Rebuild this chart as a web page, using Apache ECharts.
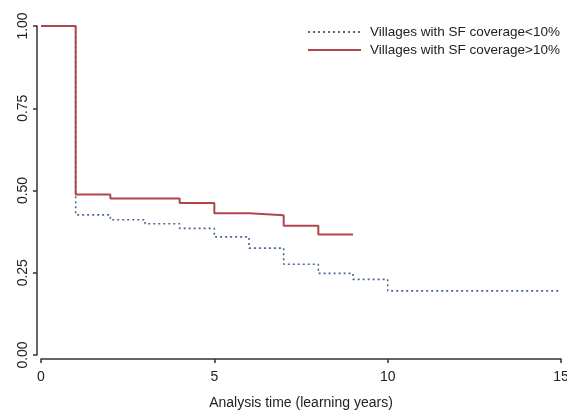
<!DOCTYPE html>
<html>
<head>
<meta charset="utf-8">
<script src="https://cdn.jsdelivr.net/npm/echarts@6/dist/echarts.min.js"></script>
<style>
  html, body { margin: 0; padding: 0; background: #fff; }
  #chart { width: 567px; height: 414px; }
</style>
</head>
<body>
<div id="chart"></div>
<script>
// survival estimates
var timesLow = [0, 1, 2, 3, 4, 5, 6, 7, 8, 9, 10, 15]
var survLow = [1, 0.426, 0.411, 0.399, 0.385, 0.359, 0.325, 0.276, 0.248, 0.230, 0.195, 0.195]
var timesHigh = [0, 1, 2, 4, 5, 6, 7, 8, 9]
var survHigh = [1, 0.488, 0.476, 0.462, 0.431, 0.425, 0.393, 0.366, 0.366]
var seriesNames = ['Villages with SF coverage<10%', 'Villages with SF coverage>10%']
var xTicks = [0, 5, 10, 15]
var yTicks = [0, 0.25, 0.5, 0.75, 1]

function pairs(xs, ys) {
  return xs.map(function (x, i) { return [x, ys[i]] })
}

var ch = echarts.init(document.getElementById('chart'))
var axisText = { color: '#222', fontSize: 14, fontFamily: 'Liberation Sans, Arial, sans-serif' }
var option = {
  animation: false,
  legend: {
    orient: 'vertical',
    left: 307,
    top: 25,
    padding: 0,
    itemWidth: 53,
    itemHeight: 10,
    itemGap: 4,
    itemStyle: { opacity: 0 },
    textStyle: { color: '#222', fontSize: 13.5, fontFamily: 'Liberation Sans, Arial, sans-serif', padding: [0, 0, 0, 4] },
    data: seriesNames
  },
  grid: {
    left: 41,
    right: 6,
    top: 26,
    bottom: 59,
    outerBoundsMode: 'none'
  },
  xAxis: {
    type: 'value',
    min: xTicks[0],
    max: xTicks[xTicks.length - 1],
    interval: 5,
    offset: 4,
    name: 'Analysis time (learning years)',
    nameLocation: 'middle',
    nameGap: 37,
    nameTextStyle: axisText,
    axisLine: { show: true, onZero: false, lineStyle: { color: '#333', width: 1.5 } },
    axisTick: { show: true, length: 4, lineStyle: { color: '#333', width: 1.5 } },
    axisLabel: { margin: 11, color: axisText.color, fontSize: 14, fontFamily: axisText.fontFamily },
    splitLine: { show: false }
  },
  yAxis: {
    type: 'value',
    min: yTicks[0],
    max: yTicks[yTicks.length - 1],
    interval: 0.25,
    offset: 4,
    axisLine: { show: true, onZero: false, lineStyle: { color: '#333', width: 1.5 } },
    axisTick: { show: true, length: 4, lineStyle: { color: '#333', width: 1.5 } },
    axisLabel: {
      rotate: 90,
      margin: 7,
      color: axisText.color,
      fontSize: 14,
      fontFamily: axisText.fontFamily,
      formatter: function (v) { return v.toFixed(2) }
    },
    splitLine: { show: false }
  },
  series: [
    {
      name: seriesNames[0],
      type: 'line',
      step: 'end',
      symbol: 'none',
      data: pairs(timesLow, survLow),
      itemStyle: { color: '#4a6790' },
      lineStyle: { color: '#4a6790', width: 1.6, type: [2, 3] }
    },
    {
      name: seriesNames[1],
      type: 'line',
      step: 'end',
      symbol: 'none',
      data: pairs(timesHigh, survHigh),
      itemStyle: { color: '#b0464c' },
      lineStyle: { color: '#b0464c', width: 2 }
    }
  ]
}
ch.setOption(option)
</script>
</body>
</html>
